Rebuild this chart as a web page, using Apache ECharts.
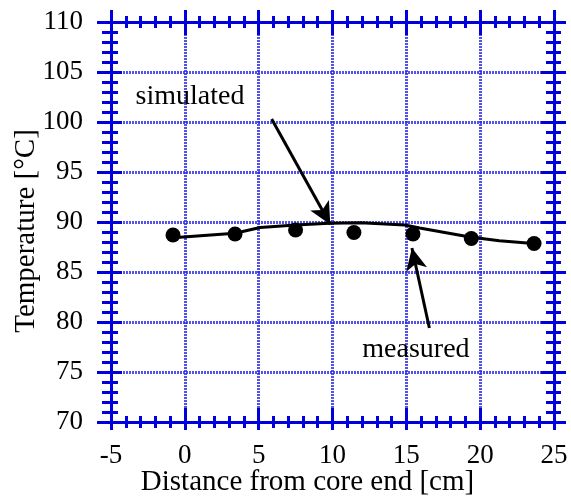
<!DOCTYPE html>
<html><head><meta charset="utf-8">
<script src="https://cdn.jsdelivr.net/npm/echarts@6/dist/echarts.min.js"></script>
<style>html,body{margin:0;padding:0;background:#fff}#c{width:571px;height:499px}</style>
</head><body><div id="c"></div>
<script>
// ---- data ----
const measuredX = [-0.8, 3.4, 7.5, 11.45, 15.45, 19.4, 23.65];
const measuredY = [88.7, 88.8, 89.2, 88.95, 88.8, 88.35, 87.85];
const simulatedX = [-0.8, 3.4, 5.1, 7.5, 9.8, 11.9, 14.9, 15.9, 19.3, 21.3, 23.6];
const simulatedY = [88.42, 88.87, 89.45, 89.7, 89.88, 89.92, 89.7, 89.4, 88.5, 88.13, 87.85];
const xTickLabels = [-5, 0, 5, 10, 15, 20, 25];
const yTickLabels = [70, 75, 80, 85, 90, 95, 100, 105, 110];
const annotationText = ['simulated', 'measured'];
const annotationAt = [[0.35, 102.5], [15.65, 77.2]];
const arrowFrom = [[5.88, 100.3], [16.56, 79.4]];
const arrowTo = [[9.85, 89.75], [15.38, 87.4]];

// ---- styling ----
const BLUE = '#0000dd';
const FONT = "'Liberation Serif', 'Times New Roman', serif";
const xMin = xTickLabels[0], xMax = xTickLabels[xTickLabels.length - 1], xInt = xTickLabels[1] - xTickLabels[0];
const yMin = yTickLabels[0], yMax = yTickLabels[yTickLabels.length - 1], yInt = yTickLabels[1] - yTickLabels[0];

function mkAxis(kind, position, inside, major, minor, extra) {
  const isX = kind === 'x';
  return Object.assign({
    type: 'value', position: position,
    min: isX ? xMin : yMin, max: isX ? xMax : yMax, interval: isX ? xInt : yInt,
    axisLine: { show: true, onZero: false, lineStyle: { color: BLUE, width: 3 } },
    axisTick: { show: true, inside: inside, length: major, lineStyle: { color: BLUE, width: 3 } },
    minorTick: { show: true, splitNumber: 5, length: minor, lineStyle: { color: BLUE, width: 3 } },
    axisLabel: { show: false },
    splitLine: { show: false },
    minorSplitLine: { show: false }
  }, extra || {});
}

const gridLine = { show: true, lineStyle: { color: 'rgba(40,40,225,0.8)', width: 3, type: [2, 1] } };

const option = {
  animation: false,
  backgroundColor: '#fff',
  grid: { left: 111, right: 17, top: 22, bottom: 77, containLabel: false, outerBoundsMode: 'none' },
  xAxis: [
    mkAxis('x', 'bottom', false, 8, 6, {
      axisLabel: { show: true, color: '#000', fontFamily: FONT, fontSize: 27, margin: 20 },
      splitLine: gridLine,
      name: 'Distance from core end [cm]', nameLocation: 'middle', nameGap: 46, nameMoveOverlap: false,
      nameTextStyle: { color: '#000', fontFamily: FONT, fontSize: 29, padding: [0, 50, 0, 0] }
    }),
    mkAxis('x', 'bottom', true, 14, 6),
    mkAxis('x', 'top', false, 12, 6),
    mkAxis('x', 'top', true, 13, 6)
  ],
  yAxis: [
    mkAxis('y', 'left', false, 14, 9, {
      axisLabel: { show: true, color: '#000', fontFamily: FONT, fontSize: 27, margin: 28 },
      splitLine: gridLine,
      name: 'Temperature [°C]', nameLocation: 'middle', nameGap: 70, nameMoveOverlap: false,
      nameTextStyle: { color: '#000', fontFamily: FONT, fontSize: 29, padding: [0, 18, 0, 0] }
    }),
    mkAxis('y', 'left', true, 11, 7),
    mkAxis('y', 'right', false, 12, 7),
    mkAxis('y', 'right', true, 13, 8)
  ],
  series: [
    {
      type: 'line', name: 'simulated', xAxisIndex: 0, yAxisIndex: 0,
      data: simulatedX.map((x, i) => [x, simulatedY[i]]),
      showSymbol: false, symbol: 'none',
      lineStyle: { color: '#000', width: 3 }, z: 5, silent: true
    },
    {
      type: 'scatter', name: 'measured', xAxisIndex: 0, yAxisIndex: 0,
      data: measuredX.map((x, i) => [x, measuredY[i]]),
      symbol: 'circle', symbolSize: 15,
      itemStyle: { color: '#000', opacity: 1 }, z: 6, silent: true,
      markLine: {
        silent: true, animation: false,
        symbol: ['none', 'arrow'], symbolSize: [16, 22],
        label: { show: false },
        lineStyle: { color: '#000', width: 3, type: 'solid', opacity: 1 },
        emphasis: { disabled: true },
        data: arrowFrom.map((p, i) => [{ coord: p }, { coord: arrowTo[i] }])
      }
    },
    {
      type: 'scatter', name: 'labels', xAxisIndex: 0, yAxisIndex: 0,
      data: annotationAt.map((p, i) => ({ value: p, name: annotationText[i] })),
      symbolSize: 1, itemStyle: { color: 'rgba(0,0,0,0)', opacity: 1 }, silent: true, z: 7,
      label: { show: true, position: 'inside', formatter: p => p.name, opacity: 1,
        color: '#000', fontFamily: FONT, fontSize: 28 }
    }
  ]
};

const chart = echarts.init(document.getElementById('c'), null, { renderer: 'canvas' });
chart.setOption(option);
</script>
</body></html>
